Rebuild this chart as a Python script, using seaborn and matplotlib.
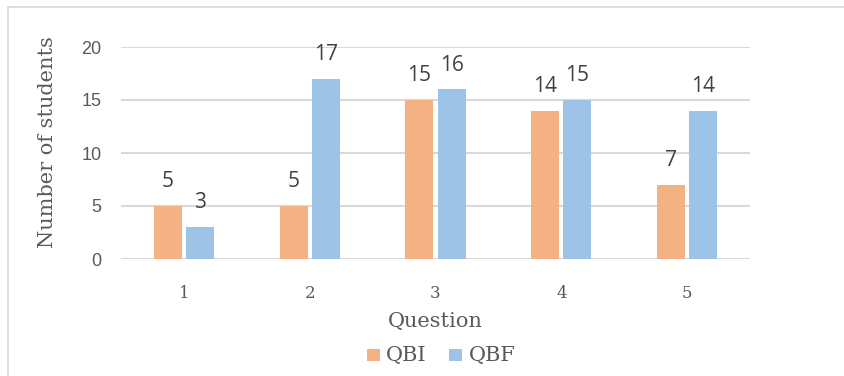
import matplotlib
matplotlib.use("Agg")
import matplotlib.pyplot as plt
import seaborn as sns
import pandas as pd
from matplotlib.patches import Rectangle

questions = ["1", "2", "3", "4", "5"]
qbi = [5, 5, 15, 14, 7]
qbf = [3, 17, 16, 15, 14]
series = ["QBI", "QBF"]
colors = ["#F4B183", "#9DC3E6"]

df = pd.DataFrame({
    "Question": questions * 2,
    "Value": qbi + qbf,
    "Series": [series[0]] * len(questions) + [series[1]] * len(questions),
})

sns.set_theme(style="white")
plt.rcParams["font.family"] = ["DejaVu Sans"]

fig = plt.figure(figsize=(8.45, 3.76), dpi=100)
ax = fig.add_axes([121/845, 1-259/376, (750-121)/845, (259-47)/376])

sns.barplot(data=df, x="Question", y="Value", hue="Series", order=questions,
            hue_order=series, palette=colors, width=0.51, gap=0.125,
            saturation=1, ax=ax, legend=True, errorbar=None,
            linewidth=0, edgecolor="none")

ax.set_ylim(0, 20)
ax.set_yticks([0, 5, 10, 15, 20])
ax.yaxis.grid(True, color="#D9D9D9", linewidth=1.5)
ax.set_axisbelow(True)
for s in ax.spines.values():
    s.set_visible(False)
ax.tick_params(axis="both", length=0)
ax.tick_params(axis="y", pad=14, labelsize=13, labelcolor="#595959")
for lab in ax.get_yticklabels():
    lab.set_family("Liberation Sans")
ax.tick_params(axis="x", pad=19, labelsize=12, labelcolor="#595959")
for lab in ax.get_xticklabels():
    lab.set_family("DejaVu Serif")

ax.set_ylabel("Number of students", family="DejaVu Serif", fontsize=15,
              color="#595959")
ax.yaxis.set_label_coords(-0.102, 0.55)
ax.set_xlabel("Question", family="DejaVu Serif", fontsize=15,
              color="#595959", labelpad=7)

for cont in ax.containers:
    for rect in cont:
        h = rect.get_height()
        ax.annotate(f"{int(round(h))}", (rect.get_x() + rect.get_width()/2, h),
                    xytext=(0, 17.5), textcoords="offset points",
                    ha="center", va="center", fontsize=15, color="#404040",
                    family="Open Sans", annotation_clip=False)

sns.move_legend(ax, loc="center", bbox_to_anchor=(0.522, 1-355/376),
                bbox_transform=fig.transFigure, ncol=2, frameon=False,
                title=None, handlelength=0.85, handleheight=0.85,
                columnspacing=1.5, handletextpad=0.4)
for t in ax.get_legend().get_texts():
    t.set_family("DejaVu Serif")
    t.set_fontsize(15)
    t.set_color("#595959")

fig.patches.append(Rectangle((8/845, -0.05), 1.2, 1-7/376+0.05,
                             transform=fig.transFigure, fill=False,
                             edgecolor="#D9D9D9", linewidth=1.2))

fig.savefig("out.png", dpi=100)
